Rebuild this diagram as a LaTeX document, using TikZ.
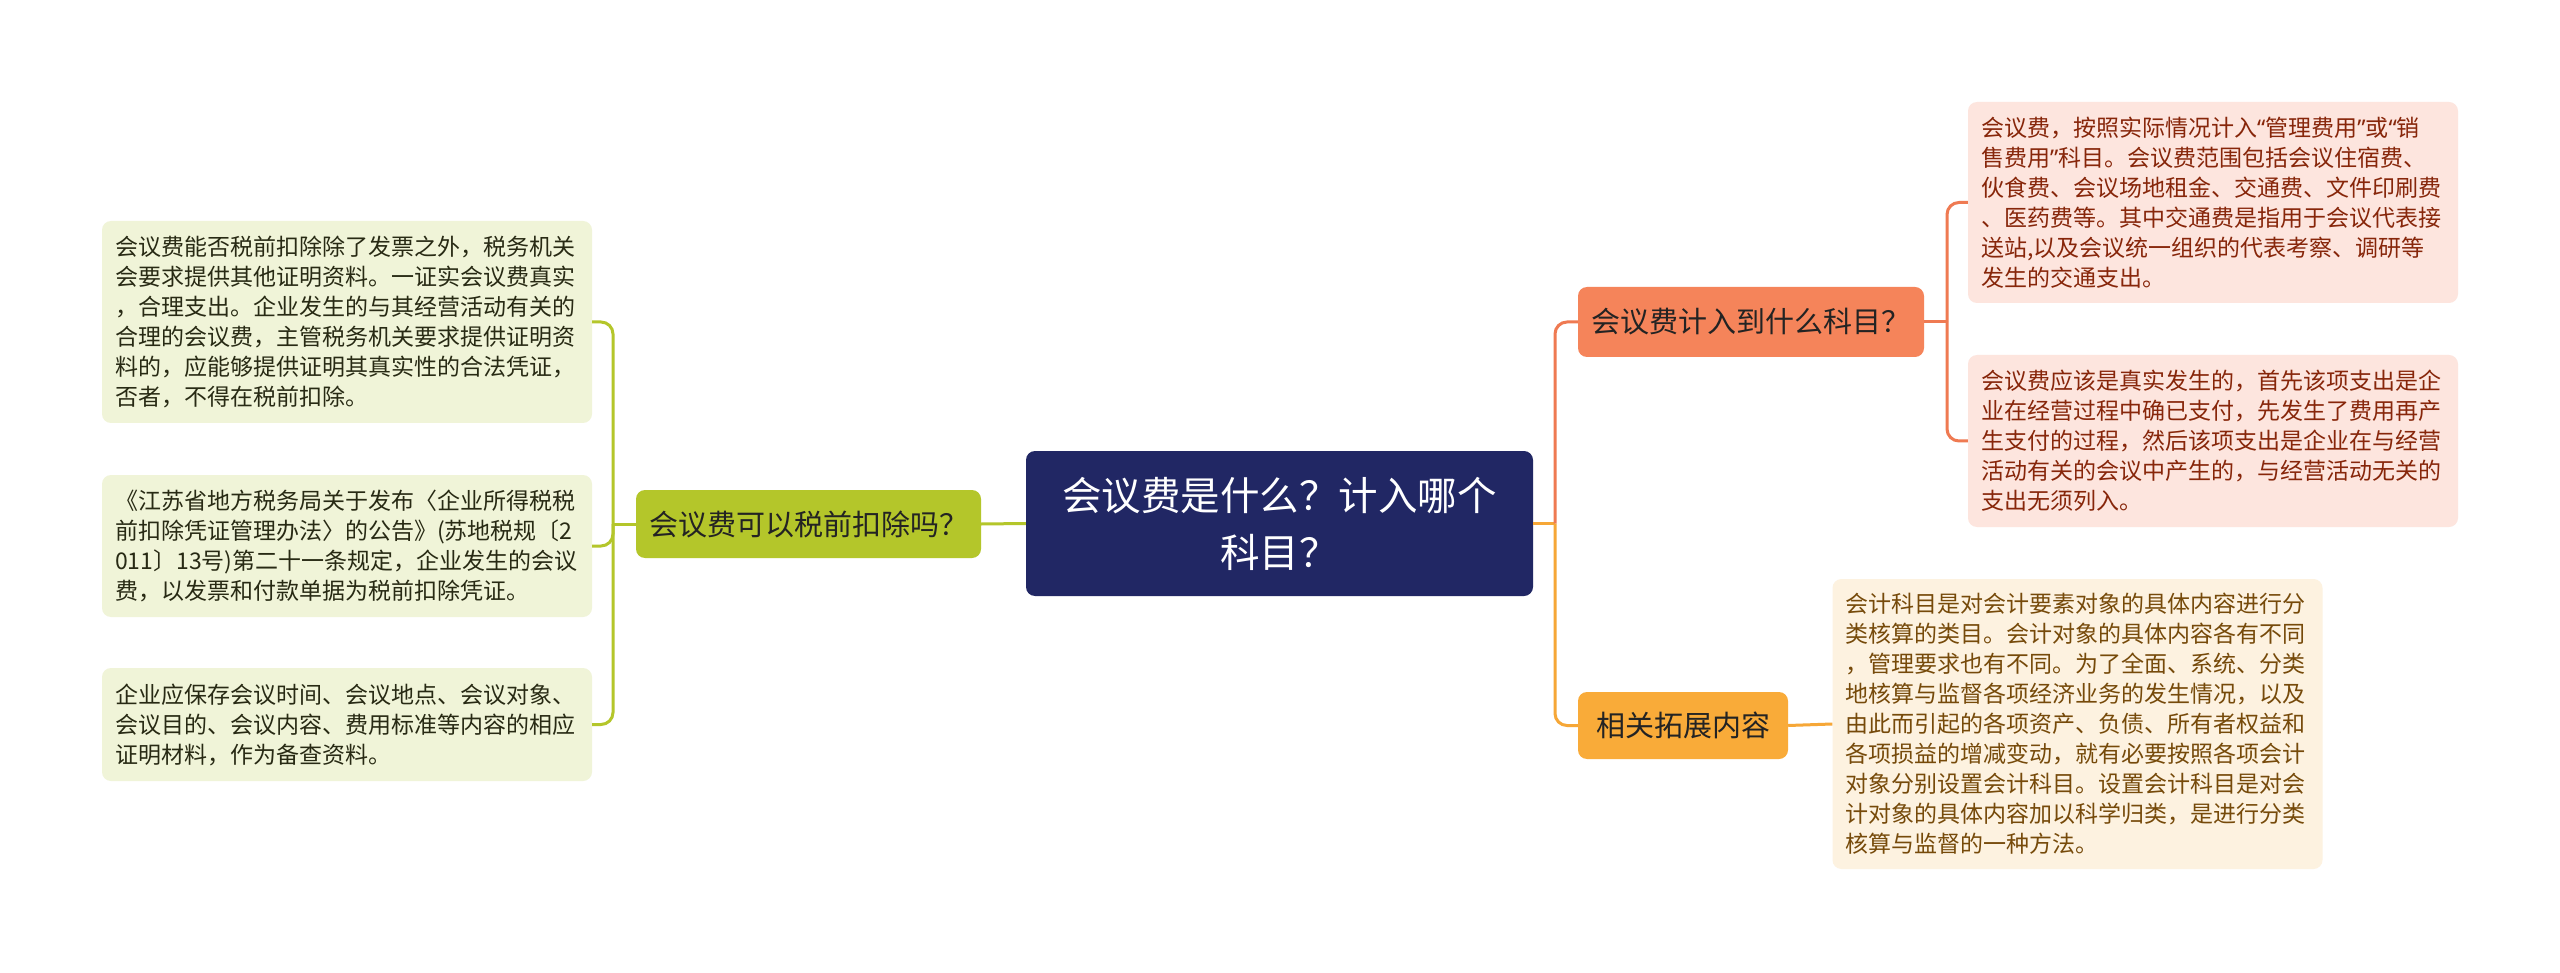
\documentclass[tikz,border=0pt]{standalone}
\usepackage{fontspec}
\newfontfamily\cjk{Noto Sans CJK SC}
\newfontfamily\lat{Noto Sans}
\newcommand{\qopen}{{\lat “}}
\newcommand{\qclose}{{\lat ”}}
\definecolor{navy}{RGB}{33,39,100}
\definecolor{grn}{RGB}{180,198,42}
\definecolor{leafG}{RGB}{240,244,216}
\definecolor{txtG}{RGB}{40,42,20}
\definecolor{coral}{RGB}{245,132,90}
\definecolor{coralL}{RGB}{239,122,82}
\definecolor{leafP}{RGB}{253,229,222}
\definecolor{txtP}{RGB}{135,38,10}
\definecolor{orng}{RGB}{249,171,57}
\definecolor{orngL}{RGB}{246,167,55}
\definecolor{leafC}{RGB}{253,242,224}
\definecolor{txtC}{RGB}{118,74,10}
\definecolor{txtD}{RGB}{35,35,35}
\tikzset{
  box/.style={rounded corners=9pt, inner sep=0pt},
  leafbox/.style={box, text width=464pt, inner xsep=13pt, inner ysep=0pt, align=left,
    font=\cjk\fontsize{23}{30}\selectfont},
  leafL/.style={leafbox, fill=leafG, text=txtG},
  leafR/.style={leafbox, fill=leafP, text=txtP},
  leafO/.style={leafbox, fill=leafC, text=txtC},
  branchbox/.style={box, align=center, text=txtD, font=\cjk\fontsize{29}{34}\selectfont},
  rootbox/.style={box, fill=navy, text=white, align=center, font=\cjk\fontsize{39.5}{57}\selectfont,
    minimum width=507pt, minimum height=145pt},
  conn/.style={line width=3pt, rounded corners=12pt}
}
\begin{document}
\begin{tikzpicture}[x=1pt,y=-1pt]
\useasboundingbox[fill=white] (0,0) rectangle (2560,973);

% root
\node[rootbox] (root) at (1279.5,523.5) {会议费是什么？计入哪个\\科目？};

% left branch
\node[branchbox, fill=grn, minimum width=345pt, minimum height=68pt] (lb) at (808.5,524) {会议费可以税前扣除吗？};

\node[leafL, minimum height=202pt] (l1) at (347,322) {会议费能否税前扣除除了发票之外，税务机关\\会要求提供其他证明资料。一证实会议费真实\\，合理支出。企业发生的与其经营活动有关的\\合理的会议费，主管税务机关要求提供证明资\\料的，应能够提供证明其真实性的合法凭证，\\否者，不得在税前扣除。};
\node[leafL, minimum height=142pt] (l2) at (347,546) {《江苏省地方税务局关于发布〈企业所得税税\\前扣除凭证管理办法〉的公告》(苏地税规〔2\\011〕13号)第二十一条规定，企业发生的会议\\费，以发票和付款单据为税前扣除凭证。};
\node[leafL, minimum height=113pt] (l3) at (347,724.5) {企业应保存会议时间、会议地点、会议对象、\\会议目的、会议内容、费用标准等内容的相应\\证明材料，作为备查资料。};

% right branches
\node[branchbox, fill=coral, minimum width=346pt, minimum height=70pt] (rb1) at (1751,322) {会议费计入到什么科目？};
\node[branchbox, fill=orng, minimum width=210pt, minimum height=67pt] (rb2) at (1683,725.5) {相关拓展内容};

\node[leafR, minimum height=201pt] (ra) at (2213,202.5) {会议费，按照实际情况计入\qopen 管理费用\qclose 或\qopen 销\\售费用\qclose 科目。会议费范围包括会议住宿费、\\伙食费、会议场地租金、交通费、文件印刷费\\、医药费等。其中交通费是指用于会议代表接\\送站,以及会议统一组织的代表考察、调研等\\发生的交通支出。};
\node[leafR, minimum height=172pt] (rbb) at (2213,441) {会议费应该是真实发生的，首先该项支出是企\\业在经营过程中确已支付，先发生了费用再产\\生支付的过程，然后该项支出是企业在与经营\\活动有关的会议中产生的，与经营活动无关的\\支出无须列入。};
\node[leafO, minimum height=290pt] (rc) at (2077.5,724) {会计科目是对会计要素对象的具体内容进行分\\类核算的类目。会计对象的具体内容各有不同\\，管理要求也有不同。为了全面、系统、分类\\地核算与监督各项经济业务的发生情况，以及\\由此而引起的各项资产、负债、所有者权益和\\各项损益的增减变动，就有必要按照各项会计\\对象分别设置会计科目。设置会计科目是对会\\计对象的具体内容加以科学归类，是进行分类\\核算与监督的一种方法。};

% junction coordinates
\coordinate (lj) at (613,524);
\coordinate (rj) at (1555,523.5);
\coordinate (r1j) at (1947,322);

% connectors left
\draw[conn, grn] (root.west) -- (lb.east);
\draw[conn, grn] (lb.west) -- (lj);
\draw[conn, grn] (lj) |- (l1.east);
\draw[conn, grn] (lj) |- (l2.east);
\draw[conn, grn] (lj) |- (l3.east);

% connectors right
\draw[conn, orngL] (root.east) -- (rj);
\draw[conn, coralL] (rj) |- (rb1.west);
\draw[conn, orngL] (rj) |- (rb2.west);
\draw[conn, coralL] (rb1.east) -- (r1j);
\draw[conn, coralL] (r1j) |- (ra.west);
\draw[conn, coralL] (r1j) |- (rbb.west);
\draw[conn, orngL] (rb2.east) -- (rc.west);
\end{tikzpicture}
\end{document}
